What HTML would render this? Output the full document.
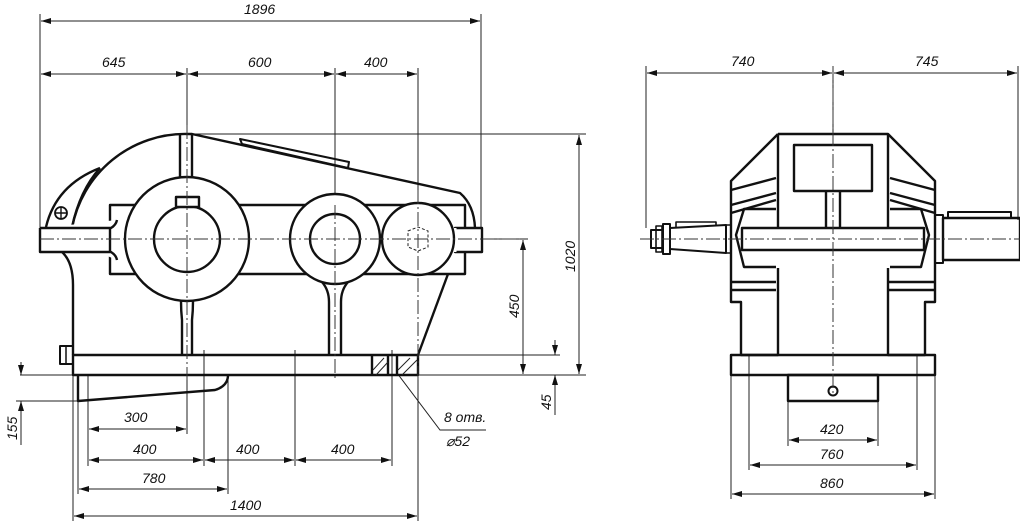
<!DOCTYPE html>
<html><head><meta charset="utf-8"><style>
html,body{margin:0;padding:0;background:#fff;}
svg{display:block;}
text{font-family:"Liberation Sans",sans-serif;font-style:italic;font-size:14px;fill:#111;}
.t{stroke:#111;stroke-width:2.4;fill:none;stroke-linejoin:round;}
.w{fill:#fff;}
.d{stroke:#222;stroke-width:1;fill:none;}
.c{stroke:#333;stroke-width:1;fill:none;stroke-dasharray:14 3 2 3;}
</style></head><body>
<svg width="1020" height="522" viewBox="0 0 1020 522" xmlns="http://www.w3.org/2000/svg">
<defs>
<marker id="a" viewBox="0 0 10 6" refX="10" refY="3" markerWidth="10" markerHeight="6" orient="auto-start-reverse" markerUnits="userSpaceOnUse"><path d="M0,0 L10,3 L0,6 z" fill="#111"/></marker>
</defs>

<!-- ===== LEFT VIEW dimensions ===== -->
<g class="d">
<line x1="40" y1="14" x2="40" y2="228"/><line x1="481" y1="14" x2="481" y2="228"/>
<line x1="41" y1="21" x2="480" y2="21" marker-start="url(#a)" marker-end="url(#a)"/>
<line x1="187" y1="68" x2="187" y2="134"/><line x1="335" y1="68" x2="335" y2="225"/><line x1="418" y1="68" x2="418" y2="205"/>
<line x1="41" y1="74" x2="186" y2="74" marker-start="url(#a)" marker-end="url(#a)"/>
<line x1="188" y1="74" x2="334" y2="74" marker-start="url(#a)" marker-end="url(#a)"/>
<line x1="336" y1="74" x2="417" y2="74" marker-start="url(#a)" marker-end="url(#a)"/>
<line x1="192" y1="134" x2="586" y2="134"/>
<line x1="480" y1="239" x2="528" y2="239"/>
<line x1="418" y1="355" x2="560" y2="355"/>
<line x1="20" y1="375" x2="586" y2="375"/>
<line x1="579" y1="135" x2="579" y2="374" marker-start="url(#a)" marker-end="url(#a)"/>
<line x1="523" y1="240" x2="523" y2="374" marker-start="url(#a)" marker-end="url(#a)"/>
<line x1="555" y1="340" x2="555" y2="355" marker-end="url(#a)"/>
<line x1="555" y1="415" x2="555" y2="375" marker-end="url(#a)"/>
<line x1="16" y1="401" x2="78" y2="401"/>
<line x1="21" y1="362" x2="21" y2="375" marker-end="url(#a)"/>
<line x1="21" y1="445" x2="21" y2="401" marker-end="url(#a)"/>
<line x1="88" y1="375" x2="88" y2="466"/><line x1="187" y1="375" x2="187" y2="434"/>
<line x1="204" y1="350" x2="204" y2="466"/><line x1="295" y1="350" x2="295" y2="466"/><line x1="392" y1="350" x2="392" y2="466"/>
<line x1="78" y1="400" x2="78" y2="494"/><line x1="228" y1="375" x2="228" y2="494"/>
<line x1="73" y1="375" x2="73" y2="521"/><line x1="418" y1="375" x2="418" y2="521"/>
<line x1="89" y1="429" x2="186" y2="429" marker-start="url(#a)" marker-end="url(#a)"/>
<line x1="89" y1="460" x2="203" y2="460" marker-start="url(#a)" marker-end="url(#a)"/>
<line x1="205" y1="460" x2="294" y2="460" marker-start="url(#a)" marker-end="url(#a)"/>
<line x1="296" y1="460" x2="391" y2="460" marker-start="url(#a)" marker-end="url(#a)"/>
<line x1="79" y1="489" x2="227" y2="489" marker-start="url(#a)" marker-end="url(#a)"/>
<line x1="74" y1="516" x2="417" y2="516" marker-start="url(#a)" marker-end="url(#a)"/>
<polyline points="397,373 440,430 486,430"/>
</g>
<text x="102" y="67">645</text><text x="248" y="67">600</text><text x="364" y="67">400</text>
<text x="244" y="14">1896</text>
<text x="124" y="422">300</text><text x="133" y="454">400</text><text x="236" y="454">400</text><text x="331" y="454">400</text>
<text x="142" y="483">780</text><text x="230" y="510">1400</text>
<text x="444" y="422">8 отв.</text><text x="446" y="446">⌀52</text>
<text transform="translate(575,272) rotate(-90)">1020</text>
<text transform="translate(519,318) rotate(-90)">450</text>
<text transform="translate(551,410) rotate(-90)">45</text>
<text transform="translate(17,440) rotate(-90)">155</text>

<!-- ===== LEFT VIEW body ===== -->
<g class="t">
<path d="M72,228 A115,115 0 0 1 187,134 L192,134 L460,193 Q474,205 475,228"/>
<path d="M100,168 Q56,185 46,227 M100,168 Q80,190 72,227"/>
<circle cx="61" cy="213" r="6" stroke-width="1.8"/>
<path d="M55,213 H67 M61,207 V219" stroke-width="1.4"/>
<path d="M180,134 V178 M192,134 V178"/>
<path d="M240,139 L242,144 L348,168 L349,162 Z" stroke-width="2"/>
<path d="M62,252 Q73,262 73,285 V355"/>
<path d="M448,274 L418,355"/>
<path d="M181,301 Q181,311 182,320 V355 M193,301 Q193,311 192,320 V355"/>
<path d="M322,282 Q329,290 329,302 V355 M348,282 Q341,290 341,302 V355"/>
<rect class="w" x="110" y="205" width="355" height="69"/>
<path class="w" d="M40,228 H111 Q116,225 117,220 M40,228 V252 H111 Q116,255 117,260"/>
<rect class="w" x="455" y="228" width="27" height="24"/>
<line x1="455" y1="228" x2="455" y2="252" stroke="#fff" stroke-width="3"/>
<circle class="w" cx="187" cy="239" r="62"/><circle cx="187" cy="239" r="33"/>
<rect class="w" x="176" y="197" width="23" height="10"/>
<circle class="w" cx="335" cy="239" r="45"/><circle cx="335" cy="239" r="25"/>
<circle class="w" cx="418" cy="239" r="36"/>
<rect x="73" y="355" width="345" height="20"/>
<rect x="60" y="346" width="13" height="18" stroke-width="2"/>
<line x1="66" y1="346" x2="66" y2="364" stroke-width="1.5"/>
<path d="M78,375 V401 L215,390 Q228,386 228,375"/>
<path d="M372,355 V375 M388,355 V375 M397,355 V375"/>
</g>
<g class="d">
<path d="M373,370 L384,358 M376,375 L388,362 M398,370 L410,358 M402,375 L417,360"/>
<path d="M408,231 L418,227 L428,231 L428,247 L418,251 L408,247 Z" stroke-dasharray="3 2"/>
</g>
<g class="c">
<line x1="40" y1="239" x2="520" y2="239"/>
<line x1="187" y1="125" x2="187" y2="380"/>
<line x1="335" y1="205" x2="335" y2="380"/>
<line x1="418" y1="190" x2="418" y2="380"/>
</g>

<!-- ===== RIGHT VIEW ===== -->
<g class="d">
<line x1="646" y1="66" x2="646" y2="228"/><line x1="833" y1="66" x2="833" y2="134"/><line x1="1018" y1="66" x2="1018" y2="220"/>
<line x1="647" y1="73" x2="832" y2="73" marker-start="url(#a)" marker-end="url(#a)"/>
<line x1="834" y1="73" x2="1017" y2="73" marker-start="url(#a)" marker-end="url(#a)"/>
<line x1="788" y1="401" x2="788" y2="446"/><line x1="878" y1="401" x2="878" y2="446"/>
<line x1="749" y1="355" x2="749" y2="470"/><line x1="917" y1="355" x2="917" y2="470"/>
<line x1="731" y1="375" x2="731" y2="499"/><line x1="935" y1="375" x2="935" y2="499"/>
<line x1="789" y1="440" x2="877" y2="440" marker-start="url(#a)" marker-end="url(#a)"/>
<line x1="750" y1="465" x2="916" y2="465" marker-start="url(#a)" marker-end="url(#a)"/>
<line x1="732" y1="494" x2="934" y2="494" marker-start="url(#a)" marker-end="url(#a)"/>
</g>
<text x="731" y="66">740</text><text x="915" y="66">745</text>
<text x="820" y="434">420</text><text x="820" y="459">760</text><text x="820" y="488">860</text>
<g class="t">
<path d="M778,134 H888 L935,181 V302 H925 V355 H888 V268 M778,268 V355 H741 V302 H731 V181 L778,134"/>
<path d="M778,134 V229 M888,134 V229"/>
<path d="M731,190 L776,178 M731,205 L776,193 M731,213 L776,200 M935,190 L890,178 M935,205 L890,193 M935,213 L890,200"/>
<path d="M731,282 H776 M731,290 H776 M888,282 H935 M888,290 H935"/>
<rect x="794" y="145" width="78" height="46"/>
<path d="M826,191 V228 M840,191 V228"/>
<path d="M776,209 H744 L736,235 L744,267 H776 M890,209 H921 L929,235 L921,267 H890"/>
<rect x="742" y="228" width="182" height="22"/>
<rect x="731" y="355" width="204" height="20"/>
<rect x="788" y="375" width="90" height="26"/>
<circle cx="833" cy="391" r="4.5" stroke-width="2"/>
<path d="M726,225 V253 L670,249 V228 Z" stroke-width="2"/>
<path d="M676,227 V222 H716 V226" stroke-width="1.6"/>
<rect x="663" y="224" width="7" height="30" stroke-width="2"/>
<rect x="651" y="230" width="12" height="18" stroke-width="2"/>
<rect x="656" y="226" width="6" height="26" stroke-width="1.6"/>
<rect x="726" y="225" width="5" height="28" stroke-width="1.6"/>
<rect x="935" y="215" width="8" height="48" stroke-width="2"/>
<rect x="943" y="218" width="77" height="42"/>
<path d="M948,218 V212 H1011 V218" stroke-width="2"/>
</g>
<line class="c" x1="833" y1="66" x2="833" y2="395"/>
<line class="c" x1="640" y1="239" x2="1020" y2="239"/>
</svg>
</body></html>
